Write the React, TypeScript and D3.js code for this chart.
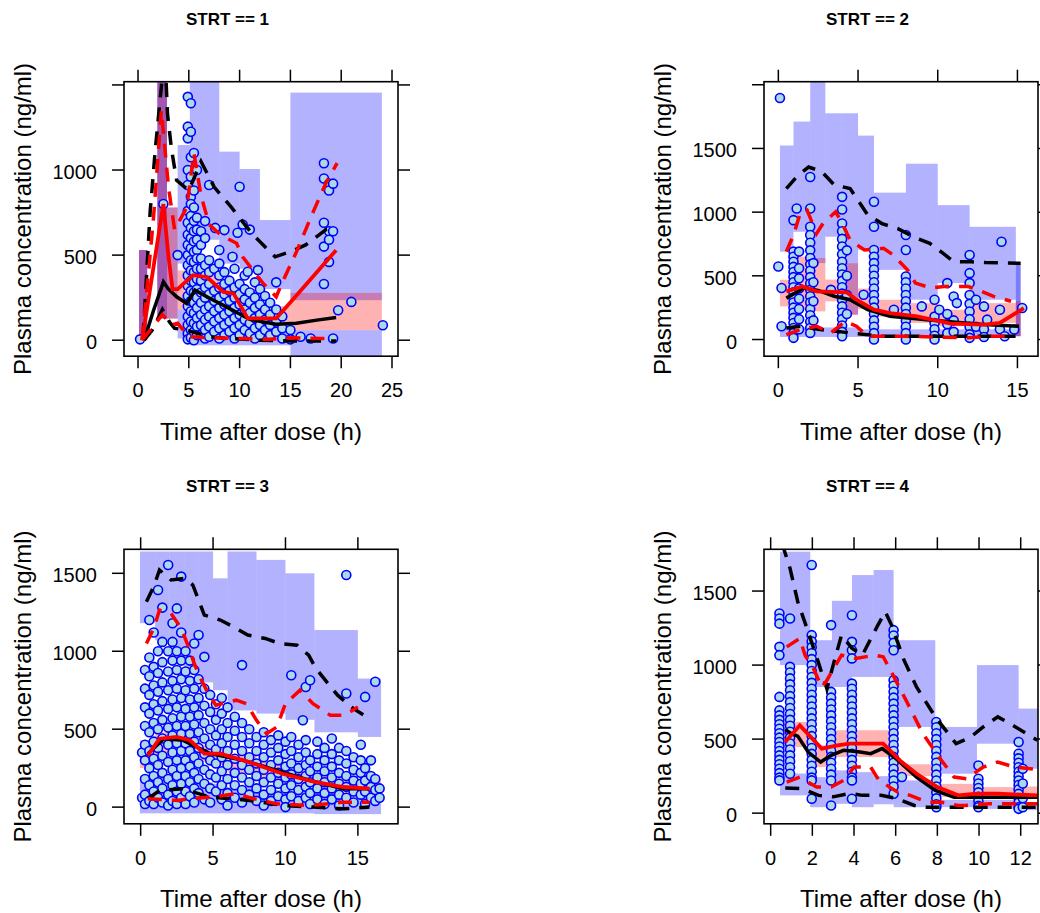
import React from "react"
import * as d3 from "d3"

type Pt = [number, number]
// [t0, t1, upperLo, upperHi, medianLo, medianHi, lowerLo, lowerHi]
type Bin = [number, number, number, number, number, number, number, number]
type Col = [number, number[]]

const titles = ["STRT == 1", "STRT == 2", "STRT == 3", "STRT == 4"]
const xLabel = "Time after dose (h)"
const yLabel = "Plasma concentration (ng/ml)"

// ---------- STRT == 1 ----------
const p1XTicks = [0, 5, 10, 15, 20, 25]
const p1YTicks = [0, 500, 1000, 1500]
const p1YLabels = ["0", "500", "1000", ""]
const p1Bins: Bin[] = [
  [0.1, 0.9, 0, 530, 0, 530, 0, 530],
  [1.9, 2.85, 127, 2000, 127, 2000, 127, 2000],
  [2.85, 3.9, 127, 780, 127, 780, 127, 127],
  [3.9, 5.1, 450, 1147, 180, 410, 10, 180],
  [5.1, 8, 590, 2000, 300, 400, -30, 250],
  [8, 10, 450, 1108, 240, 330, -30, 200],
  [10, 12, 420, 1006, 180, 300, -30, 150],
  [12, 15, 300, 706, 100, 200, -30, 100],
  [15, 24, 235, 1455, 59, 278, -150, 59],
]
const p1Obs: Col[] = [
  [0.2, [5]],
  [2.5, [800]],
  [3.9, [500]],
  [4.9, [1430, 1255, 1186, 1000, 912, 760, 690, 620, 560, 500, 440, 380, 320, 260, 200, 140, 90, 40, 5]],
  [5.2, [1392, 1225, 1075, 961, 843, 800, 730, 660, 600, 540, 470, 410, 350, 290, 230, 170, 110, 60, 15]],
  [5.5, [1100, 880, 780, 700, 640, 580, 520, 460, 400, 340, 280, 220, 160, 100, 50, 0]],
  [5.8, [1000, 720, 650, 590, 530, 480, 420, 360, 300, 250, 190, 130, 80, 30]],
  [6.2, [640, 560, 480, 420, 350, 280, 220, 150, 90, 30]],
  [6.6, [700, 600, 440, 380, 310, 250, 180, 120, 60, 10]],
  [7.0, [912, 470, 400, 330, 270, 200, 140, 80, 20]],
  [7.5, [420, 290, 230, 170, 110, 50]],
  [7.6, [660]],
  [8.0, [530, 450, 380, 310, 250, 190, 130, 70, 10]],
  [8.5, [647, 400, 330, 270, 210, 150, 90, 30]],
  [9.0, [350, 290, 230, 170, 110, 50]],
  [9.3, [490]],
  [9.5, [420, 310, 250, 190, 130, 70, 10]],
  [9.8, [631]],
  [10.0, [902, 330, 270, 210, 150, 90, 30]],
  [10.3, [680]],
  [10.5, [380, 300, 240, 180, 120, 60]],
  [10.8, [402]],
  [11.0, [650, 280, 220, 160, 100, 40]],
  [11.5, [340, 250, 190, 130, 70, 10]],
  [11.8, [412]],
  [12.0, [300, 210, 150, 90, 30]],
  [12.5, [260, 180, 120, 60]],
  [13.0, [220, 150, 90, 30]],
  [13.6, [340, 180, 110, 50]],
  [14.2, [140, 70, 10]],
  [15.0, [60, 5]],
  [16.0, [20]],
  [17.0, [10]],
  [18.3, [1040, 950, 690, 550, 330]],
  [18.8, [920, 880, 640, 590, 460]],
  [19.2, [920, 640, 10]],
  [19.7, [176]],
  [21.0, [225]],
  [24.1, [88]],
]
const p1SimMed: Pt[] = [[0.6, 0], [1.5, 170], [2.5, 343], [3.0, 300], [3.8, 255], [4.8, 216], [5.6, 294], [7.1, 245], [8.7, 196], [11, 122], [13.6, 94], [15.6, 100], [17.6, 118], [19.5, 133]]
const p1Sim95: Pt[] = [[0.5, 20], [1.2, 760], [1.7, 1120], [2.3, 1490], [2.6, 1750], [2.9, 1330], [3.3, 1120], [3.8, 940], [5.0, 880], [6.2, 1050], [7.5, 900], [9.2, 780], [11.3, 620], [13.5, 490], [15, 520], [16.5, 560], [18.5, 650], [19.5, 660]]
const p1Sim05: Pt[] = [[0.6, 0], [1.4, 60], [2.4, 180], [3.1, 107], [3.6, 70], [4.8, 59], [7, 20], [9, 10], [12, 0], [15, -5], [19.5, -5]]
const p1ObsMed: Pt[] = [[0.4, 0], [1.5, 420], [2.5, 800], [3.0, 490], [3.4, 300], [3.9, 300], [5.4, 382], [6.8, 370], [8.4, 284], [9.4, 275], [10.8, 128], [13.6, 128], [14.9, 216], [19.5, 529]]
const p1Obs95: Pt[] = [[0.4, 0], [1.5, 700], [2.3, 1350], [3.0, 900], [3.6, 650], [4.8, 780], [5.5, 1100], [6.2, 850], [7, 680], [8.2, 615], [9.7, 570], [10.3, 490], [12.3, 335], [13.6, 255], [14.3, 353], [15.6, 520], [17.1, 735], [18.5, 924], [19.6, 1040]]
const p1Obs05: Pt[] = [[0.4, 0], [2.4, 150], [3.3, 90], [3.9, 100], [5, 20], [7, 15], [10, 10], [13, 5], [15, 15], [18, 10], [19, 10]]

// ---------- STRT == 2 ----------
const p2XTicks = [0, 5, 10, 15]
const p2YTicks = [0, 500, 1000, 1500, 2000]
const p2YLabels = ["0", "500", "1000", "1500", ""]
const p2Bins: Bin[] = [
  [0.1, 0.95, 690, 1523, 260, 469, 20, 95],
  [0.95, 2.0, 846, 1711, 234, 651, 20, 95],
  [2.0, 2.95, 600, 2100, 221, 640, 20, 95],
  [2.95, 3.95, 807, 1776, 300, 470, 20, 95],
  [3.95, 5.0, 195, 1776, 195, 599, 20, 95],
  [5.0, 6.0, 703, 1601, 240, 400, 20, 80],
  [6.0, 8.0, 547, 1153, 180, 312, 20, 80],
  [8.0, 10.0, 312, 1380, 130, 286, 20, 80],
  [10.0, 12.0, 443, 1055, 104, 234, 20, 80],
  [12.0, 14.9, 312, 885, 130, 286, 20, 80],
  [14.9, 15.2, 26, 591, 26, 300, 26, 591],
]
const p2Obs: Col[] = [
  [0.0, [573]],
  [0.1, [1896]],
  [0.2, [404, 104]],
  [0.95, [937, 690, 650, 610, 570, 530, 490, 450, 410, 370, 330, 290, 250, 210, 170, 130, 90, 50, 13]],
  [1.15, [1029]],
  [1.3, [690, 560, 480, 400, 320, 240, 160, 80]],
  [2.0, [1276, 1029, 885, 820, 760, 700, 640, 590, 540, 490, 440, 390, 340, 290, 240, 190, 140, 90, 52]],
  [2.2, [600, 450, 300, 150]],
  [3.3, [390]],
  [4.0, [1120, 1021, 911, 850, 790, 730, 670, 610, 560, 510, 460, 410, 360, 310, 260, 210, 160, 110, 60, 26]],
  [4.3, [700, 500, 350, 200]],
  [5.35, [351]],
  [6.0, [1081, 885, 703, 650, 600, 550, 500, 450, 400, 350, 300, 250, 200, 150, 100, 50, 0]],
  [7.25, [234]],
  [8.0, [820, 703, 495, 450, 400, 350, 300, 250, 200, 150, 100, 50, 0]],
  [9.0, [260]],
  [9.8, [312, 180, 130, 80, 30, 0]],
  [10.1, [234]],
  [10.6, [443, 200, 120, 50]],
  [11.0, [338, 150, 60]],
  [11.2, [286]],
  [12.0, [664, 521, 443, 350, 280, 220, 160, 100, 40, 13]],
  [12.4, [312, 100]],
  [12.9, [260, 80, 20]],
  [13.1, [156]],
  [13.9, [234, 80]],
  [14.0, [768]],
  [14.2, [26]],
  [14.8, [78]],
  [15.3, [247]],
]
const p2SimMed: Pt[] = [[0.5, 325], [1.6, 404], [2.5, 385], [3.5, 340], [4.5, 312], [5.6, 234], [7, 182], [9.3, 156], [11.7, 130], [12.9, 117], [15.1, 104]]
const p2Sim95: Pt[] = [[0.5, 1185], [1.2, 1285], [1.9, 1354], [2.7, 1320], [3.5, 1215], [4.5, 1185], [5.6, 980], [6.5, 910], [7.5, 870], [8.5, 805], [9.5, 755], [10.3, 680], [11, 612], [12.1, 610], [13, 604], [15.2, 599]]
const p2Sim05: Pt[] = [[0.5, 91], [1.4, 104], [2.5, 80], [4.5, 52], [6.5, 26], [8.7, 26], [15.1, 26]]
const p2ObsMed: Pt[] = [[0.5, 378], [1.5, 417], [2.4, 378], [4.3, 370], [4.9, 312], [6, 234], [7, 208], [8.7, 182], [10.8, 125], [12.9, 117], [13.9, 130], [15.4, 247]]
const p2Obs95: Pt[] = [[0.5, 690], [0.95, 820], [1.4, 1003], [1.8, 1016], [2.4, 833], [2.8, 911], [3.6, 1003], [4, 911], [4.5, 781], [5.4, 703], [6.6, 716], [7.2, 664], [8.1, 547], [8.6, 443], [9.6, 404], [10.4, 417], [11.9, 417], [12.5, 391], [13.5, 339], [14.6, 300]]
const p2Obs05: Pt[] = [[0.5, 39], [1.4, 78], [2.4, 104], [3.3, 52], [4.2, 143], [4.9, 104], [5.6, 26], [8, 26], [11.9, 13], [13.3, 26], [14.2, 26]]

// ---------- STRT == 3 ----------
const p3XTicks = [0, 5, 10, 15]
const p3YTicks = [0, 500, 1000, 1500]
const p3YLabels = ["0", "500", "1000", "1500"]
const p3Bins: Bin[] = [
  [-0.05, 1, 1180, 1640, 250, 430, -40, 200],
  [1, 2, 1070, 1640, 330, 480, -40, 200],
  [2, 3, 950, 1640, 350, 470, -40, 200],
  [3, 4, 850, 1640, 320, 460, -40, 180],
  [4, 5, 800, 1640, 290, 400, -40, 160],
  [5, 6, 750, 1468, 270, 380, -40, 150],
  [6, 8, 620, 1640, 220, 340, -40, 130],
  [8, 10, 600, 1586, 170, 290, -40, 110],
  [10, 12, 560, 1500, 130, 240, -40, 100],
  [12, 15, 480, 1136, 90, 200, -45, 90],
  [15, 16.6, 450, 825, 70, 180, -45, 80],
]
const p3Obs: Col[] = [
  [0.1, [350, 60]],
  [0.3, [880, 760, 640, 520, 400, 300, 180, 80, 20]],
  [0.6, [1200, 960, 840, 720, 600, 480, 360, 250, 140, 40]],
  [0.9, [1120, 900, 780, 660, 540, 420, 310, 200, 100, 20]],
  [1.2, [1393, 1000, 860, 740, 620, 500, 380, 270, 160, 60]],
  [1.5, [1280, 1060, 930, 800, 680, 560, 440, 330, 220, 120, 30]],
  [1.9, [1553, 1000, 870, 750, 630, 510, 400, 290, 180, 80, 10]],
  [2.2, [1180, 1060, 940, 810, 690, 570, 460, 350, 240, 140, 40]],
  [2.5, [1275, 1000, 880, 760, 640, 520, 410, 300, 200, 100, 20]],
  [2.8, [1479, 1120, 940, 820, 700, 580, 470, 360, 250, 150, 60]],
  [3.1, [1000, 870, 750, 630, 520, 410, 300, 200, 100, 20]],
  [3.4, [940, 810, 690, 580, 470, 360, 260, 160, 70]],
  [3.7, [1050, 880, 760, 640, 530, 420, 320, 220, 120, 30]],
  [4.0, [1104, 820, 700, 590, 480, 380, 280, 180, 90]],
  [4.4, [964, 760, 650, 540, 440, 340, 240, 150, 50]],
  [4.8, [720, 610, 500, 400, 300, 210, 120, 30]],
  [5.2, [660, 560, 460, 370, 280, 190, 100]],
  [5.6, [700, 600, 500, 410, 320, 230, 140, 50]],
  [6.0, [640, 540, 450, 360, 270, 180, 90, 10]],
  [6.5, [580, 490, 400, 310, 220, 140, 60]],
  [7.0, [911, 540, 450, 360, 270, 190, 110, 30]],
  [7.5, [500, 410, 320, 240, 160, 80]],
  [8.0, [450, 360, 280, 200, 120, 40]],
  [8.5, [480, 400, 320, 240, 160, 80, 10]],
  [9.0, [430, 350, 270, 190, 110, 40]],
  [9.5, [460, 380, 300, 220, 150, 70]],
  [10.0, [420, 340, 260, 190, 120, 50, 0]],
  [10.4, [846, 450, 360, 280, 210, 140, 70]],
  [10.9, [400, 320, 250, 180, 110, 40]],
  [11.2, [557]],
  [11.4, [771, 430, 350, 270, 200, 130, 60]],
  [11.7, [814, 300, 230, 160, 90, 20]],
  [12.2, [420, 340, 260, 190, 120, 50]],
  [12.7, [380, 300, 230, 160, 90, 20]],
  [13.2, [440, 340, 260, 190, 120, 50]],
  [13.7, [380, 300, 220, 150, 80, 10]],
  [14.2, [1489, 729, 360, 280, 200, 130, 60]],
  [14.7, [320, 240, 170, 100, 30]],
  [15.2, [400, 300, 220, 150, 80]],
  [15.5, [707, 250, 170, 100, 20]],
  [15.9, [300, 200, 130, 60]],
  [16.2, [804, 180, 110, 40]],
  [16.5, [120, 60]],
]
const p3SimMed: Pt[] = [[0.5, 343], [1.6, 439], [2.9, 429], [4.8, 343], [7.1, 300], [9.4, 236], [11.7, 171], [14, 118], [15.8, 118]]
const p3Sim95: Pt[] = [[0.4, 1318], [0.9, 1414], [1.3, 1521], [2.1, 1457], [3.1, 1468], [3.6, 1425], [4.4, 1232], [5.5, 1200], [6.4, 1157], [7.4, 1104], [8.6, 1082], [9.6, 1050], [10.8, 1039], [11.6, 975], [12.1, 889], [13.6, 718], [14.7, 632], [15.6, 579]]
const p3Sim05: Pt[] = [[0.5, 54], [1.3, 107], [2.9, 118], [4.8, 64], [7.5, 43], [9.8, 11], [11.9, 0], [14, -11], [15.8, 0]]
const p3ObsMed: Pt[] = [[0.5, 332], [1.3, 439], [2.5, 450], [3.4, 429], [4.4, 343], [5.5, 343], [7.5, 289], [9.8, 214], [12.1, 161], [14, 129], [15.8, 118]]
const p3Obs95: Pt[] = [[0.4, 1050], [0.9, 1146], [1.3, 1264], [2.1, 1243], [2.8, 1146], [3.3, 1029], [3.7, 921], [4.2, 814], [4.8, 707], [5.2, 654], [6.6, 686], [7.3, 664], [8, 557], [8.7, 471], [9.4, 514], [10, 664], [11, 750], [11.9, 664], [13.1, 589], [14.1, 589], [15, 643]]
const p3Obs05: Pt[] = [[0.5, 54], [2.5, 43], [3.4, 54], [4.8, 64], [6.6, 86], [7.8, 54], [9.4, 21], [11.7, 11], [14, 32], [15.8, 32]]

// ---------- STRT == 4 ----------
const p4XTicks = [0, 2, 4, 6, 8, 10, 12]
const p4YTicks = [0, 500, 1000, 1500]
const p4YLabels = ["0", "500", "1000", "1500"]
const p4Bins: Bin[] = [
  [0.45, 1.9, 1000, 1766, 446, 616, 120, 268],
  [1.9, 2.94, 852, 1168, 311, 458, 40, 243],
  [2.94, 3.9, 852, 1434, 379, 560, 63, 289],
  [3.9, 4.94, 920, 1608, 379, 560, 40, 277],
  [4.94, 5.9, 920, 1642, 379, 560, 60, 250],
  [5.9, 7.9, 582, 1168, 250, 330, 40, 221],
  [7.9, 9.9, 266, 582, 108, 198, 40, 90],
  [9.9, 11.9, 469, 1000, 131, 176, 29, 90],
  [11.9, 13, 300, 706, 100, 180, 20, 70],
]
const p4Obs: Col[] = [
  [0.42, [1348, 1315, 1280, 1123, 1067, 785, 694, 660, 630, 600, 570, 540, 510, 480, 450, 420, 390, 360, 330, 300, 270, 240, 221]],
  [0.93, [1315, 988, 950, 910, 870, 830, 790, 750, 710, 670, 630, 590, 550, 510, 470, 430, 390, 350, 310, 266]],
  [1.97, [1676, 1202, 1160, 1120, 1080, 1040, 1000, 960, 920, 880, 840, 800, 760, 720, 680, 640, 600, 560, 520, 480, 440, 400, 360, 320, 280, 240, 221, 97]],
  [2.9, [1270, 819, 780, 740, 700, 660, 620, 580, 540, 500, 460, 420, 380, 340, 300, 260, 220, 52]],
  [3.9, [1337, 1157, 1100, 1045, 875, 840, 800, 760, 720, 680, 640, 600, 560, 520, 480, 440, 400, 360, 320, 280, 240, 221, 97]],
  [5.9, [1236, 1200, 1150, 1100, 898, 860, 820, 780, 740, 700, 660, 620, 580, 540, 500, 460, 420, 380, 340, 300, 260, 220, 180, 131]],
  [6.3, [244]],
  [7.95, [616, 580, 540, 500, 460, 420, 380, 340, 300, 260, 220, 180, 140, 100, 60, 40]],
  [9.97, [322, 232, 200, 170, 140, 110, 80, 50, 40]],
  [11.9, [480, 401, 370, 340, 310, 280, 250, 220, 190, 160, 130, 100, 70, 40, 29]],
  [12.1, [300, 200, 100, 40]],
]
const p4SimMed: Pt[] = [[0.7, 564], [1.0, 537], [1.3, 520], [1.8, 413], [2.4, 345], [2.9, 391], [3.5, 424], [4.3, 413], [4.8, 402], [5.35, 436], [6.0, 370], [7.0, 243], [7.9, 153], [8.8, 108], [10.2, 108], [12.8, 108]]
const p4Sim95: Pt[] = [[0.55, 1820], [0.93, 1653], [1.3, 1428], [1.8, 1224], [2.3, 1013], [2.7, 840], [3.0, 1000], [3.4, 1202], [3.9, 1114], [4.4, 1067], [5.1, 1258], [5.5, 1360], [5.8, 1270], [6.4, 1033], [7, 852], [7.9, 650], [8.9, 469], [9.6, 514], [10.2, 582], [10.9, 650], [11.5, 604], [12.8, 492]]
const p4Sim05: Pt[] = [[0.7, 170], [1.5, 165], [2.3, 120], [3.0, 110], [3.8, 133], [4.4, 120], [5.3, 120], [6.0, 100], [6.9, 52], [7.5, 40], [12.8, 40]]
const p4ObsMed: Pt[] = [[0.7, 480], [1.4, 593], [2.45, 436], [3.2, 458], [3.8, 469], [5.4, 469], [6.2, 356], [7.0, 266], [8.0, 176], [9.0, 120], [9.9, 131], [10.9, 131], [12.8, 120]]
const p4Obs95: Pt[] = [[0.77, 1123], [1.4, 1180], [1.65, 1067], [2.05, 979], [2.45, 850], [2.7, 898], [3.4, 1067], [4.1, 1045], [5.0, 1067], [5.4, 1056], [5.75, 965], [6.5, 762], [7.3, 537], [8.2, 356], [8.8, 244], [9.4, 232], [10.2, 311], [10.9, 345], [11.7, 311], [12.8, 295]]
const p4Obs05: Pt[] = [[0.77, 210], [1.4, 244], [2.2, 176], [2.9, 176], [3.5, 221], [4.0, 311], [4.8, 311], [5.2, 221], [6.1, 142], [6.7, 120], [7.5, 74], [8.2, 74], [9.0, 52], [9.3, 52], [10.5, 63], [12.8, 63]]

const panels = [
  { xDom: [-1.38, 25.59], yDom: [-94, 1519], xTicks: p1XTicks, yTicks: p1YTicks, yLabels: p1YLabels, bins: p1Bins, obs: p1Obs, simMed: p1SimMed, sim95: p1Sim95, sim05: p1Sim05, obsMed: p1ObsMed, obs95: p1Obs95, obs05: p1Obs05 },
  { xDom: [-0.9, 16.29], yDom: [-131, 2024], xTicks: p2XTicks, yTicks: p2YTicks, yLabels: p2YLabels, bins: p2Bins, obs: p2Obs, simMed: p2SimMed, sim95: p2Sim95, sim05: p2Sim05, obsMed: p2ObsMed, obs95: p2Obs95, obs05: p2Obs05 },
  { xDom: [-1.15, 17.77], yDom: [-107, 1654], xTicks: p3XTicks, yTicks: p3YTicks, yLabels: p3YLabels, bins: p3Bins, obs: p3Obs, simMed: p3SimMed, sim95: p3Sim95, sim05: p3Sim05, obsMed: p3ObsMed, obs95: p3Obs95, obs05: p3Obs05 },
  { xDom: [-0.32, 12.83], yDom: [-72, 1782], xTicks: p4XTicks, yTicks: p4YTicks, yLabels: p4YLabels, bins: p4Bins, obs: p4Obs, simMed: p4SimMed, sim95: p4Sim95, sim05: p4Sim05, obsMed: p4ObsMed, obs95: p4Obs95, obs05: p4Obs05 },
]

const font = "'Liberation Sans', Arial, sans-serif"
const BLUE = "rgba(0,0,255,0.3)"
const PINK = "rgba(255,0,0,0.3)"
const DASH = "14,10"

const Panel = ({ idx }: { idx: number }) => {
  const p = panels[idx]
  const col = idx % 2
  const row = Math.floor(idx / 2)
  const left = 124 + col * 640
  const top = 81.7 + row * 467.6
  const w = 274
  const h = 274.5

  const x = d3.scaleLinear().domain(p.xDom).range([left, left + w])
  const y = d3.scaleLinear().domain(p.yDom).range([top + h, top])
  const line = d3
    .line<Pt>()
    .x((d) => x(d[0]))
    .y((d) => y(d[1]))

  const clipId = `clip-${idx}`
  const band = (b: Bin, lo: number, hi: number, fill: string, k: string) =>
    hi > lo ? (
      <rect key={k} x={x(b[0])} width={x(b[1]) - x(b[0])} y={y(hi)} height={y(lo) - y(hi)} fill={fill} />
    ) : null

  const pts: Pt[] = []
  p.obs.forEach(([t, cs]) => cs.forEach((c) => pts.push([t, c])))

  return (
    <g>
      <defs>
        <clipPath id={clipId}>
          <rect x={left} y={top} width={w} height={h} />
        </clipPath>
      </defs>
      <g clipPath={`url(#${clipId})`}>
        {p.bins.map((b, i) => band(b, b[2], b[3], BLUE, `u${i}`))}
        {p.bins.map((b, i) => band(b, b[6], b[7], BLUE, `l${i}`))}
        {p.bins.map((b, i) => band(b, b[4], b[5], PINK, `m${i}`))}
        {pts.map((d, i) => (
          <circle key={i} cx={x(d[0])} cy={y(d[1])} r={4.5} fill="#ADD8E6" stroke="#0000FF" strokeWidth={1.6} />
        ))}
        <path d={line(p.sim95) || ""} fill="none" stroke="#000" strokeWidth={3.5} strokeDasharray={DASH} />
        <path d={line(p.sim05) || ""} fill="none" stroke="#000" strokeWidth={3.5} strokeDasharray={DASH} />
        <path d={line(p.simMed) || ""} fill="none" stroke="#000" strokeWidth={3.5} />
        <path d={line(p.obs95) || ""} fill="none" stroke="#FF0000" strokeWidth={3.5} strokeDasharray={DASH} />
        <path d={line(p.obs05) || ""} fill="none" stroke="#FF0000" strokeWidth={3.5} strokeDasharray={DASH} />
        <path d={line(p.obsMed) || ""} fill="none" stroke="#FF0000" strokeWidth={3.8} />
      </g>
      <rect x={left} y={top} width={w} height={h} fill="none" stroke="#000" strokeWidth={1.6} />
      {p.xTicks.map((t) => (
        <g key={`x${t}`}>
          <line x1={x(t)} x2={x(t)} y1={top + h} y2={top + h + 12} stroke="#000" strokeWidth={1.5} />
          <line x1={x(t)} x2={x(t)} y1={top} y2={top - 12} stroke="#000" strokeWidth={1.5} />
          <text x={x(t)} y={top + h + 41} textAnchor="middle" fontSize={20} fontFamily={font} fill="#000">
            {t}
          </text>
        </g>
      ))}
      {p.yTicks.map((v, i) => (
        <g key={`y${v}`}>
          <line x1={left} x2={left - 12} y1={y(v)} y2={y(v)} stroke="#000" strokeWidth={1.5} />
          <line x1={left + w} x2={left + w + 12} y1={y(v)} y2={y(v)} stroke="#000" strokeWidth={1.5} />
          <text x={left - 27} y={y(v) + 9} textAnchor="end" fontSize={20} fontFamily={font} fill="#000">
            {p.yLabels[i]}
          </text>
        </g>
      ))}
      <text x={left + 103.5} y={top - 57} textAnchor="middle" fontSize={17} fontWeight="bold" fontFamily={font} fill="#000">
        {titles[idx]}
      </text>
      <text x={left + 137} y={top + 358} textAnchor="middle" fontSize={24} fontFamily={font} fill="#000">
        {xLabel}
      </text>
      <text
        transform={`translate(${left - 102}, ${top + h / 2}) rotate(-90)`}
        textAnchor="middle"
        dominantBaseline="central"
        fontSize={24}
        fontFamily={font}
        fill="#000"
      >
        {yLabel}
      </text>
    </g>
  )
}

export default function App() {
  return (
    <svg width={1040} height={913} style={{ position: "absolute", left: 0, top: 0, background: "#fff" }}>
      {panels.map((_, i) => (
        <Panel key={i} idx={i} />
      ))}
    </svg>
  )
}
